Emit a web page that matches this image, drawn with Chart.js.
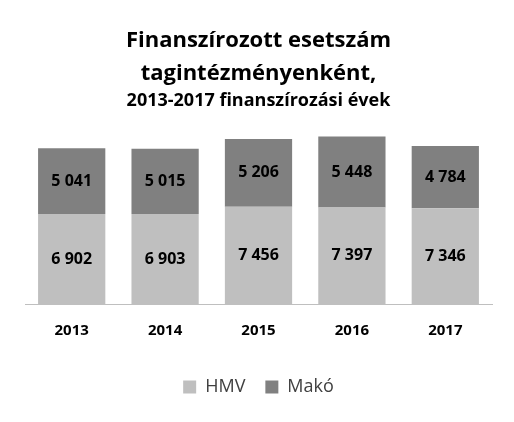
<!DOCTYPE html>
<html>
<head>
<meta charset="utf-8">
<script src="https://cdn.jsdelivr.net/npm/chart.js@4"></script>
<style>
  body { margin: 0; background: #fff; }
  #wrap { width: 514px; height: 422px; }
</style>
</head>
<body>
<div id="wrap"><canvas id="chart"></canvas></div>
<script>
const years = ['2013', '2014', '2015', '2016', '2017'];
const hmv = [6902, 6903, 7456, 7397, 7346];
const mako = [5041, 5015, 5206, 5448, 4784];

// format numbers with a space as thousands separator
const fmt = v => String(v).replace(/\B(?=(\d{3})+(?!\d))/g, ' ');

// draw the value in the middle of each bar segment
const barLabels = {
  id: 'barLabels',
  afterDatasetsDraw(chart) {
    const ctx = chart.ctx;
    ctx.save();
    ctx.font = 'bold 16px "Open Sans", sans-serif';
    ctx.fillStyle = '#000';
    ctx.textAlign = 'center';
    ctx.textBaseline = 'middle';
    chart.data.datasets.forEach((ds, i) => {
      chart.getDatasetMeta(i).data.forEach((bar, j) => {
        const mid = (bar.y + bar.base) / 2;
        ctx.fillText(fmt(ds.data[j]), bar.x, mid);
      });
    });
    ctx.restore();
  }
};

new Chart(document.getElementById('chart'), {
  type: 'bar',
  data: {
    labels: years,
    datasets: [
      { label: 'HMV', data: hmv, backgroundColor: '#bfbfbf' },
      { label: 'Makó', data: mako, backgroundColor: '#808080' }
    ]
  },
  options: {
    responsive: true,
    maintainAspectRatio: false,
    animation: false,
    layout: { padding: { left: 25, right: 22, top: 24, bottom: 16 } },
    datasets: { bar: { categoryPercentage: 1, barPercentage: 0.72 } },
    scales: {
      x: {
        stacked: true,
        grid: { display: false, drawTicks: false },
        border: { color: '#bfbfbf' },
        ticks: { color: '#000', padding: 18, font: { family: '"Open Sans", sans-serif', size: 15, weight: 'bold' } }
      },
      y: {
        stacked: true,
        min: 0,
        max: 14300,
        display: false
      }
    },
    plugins: {
      title: {
        display: true,
        text: ['Finanszírozott esetszám', 'tagintézményenként,'],
        color: '#000',
        font: { family: '"Open Sans", sans-serif', size: 22, weight: 'bold', lineHeight: 1.5 },
        padding: { top: 0, bottom: 0 }
      },
      subtitle: {
        display: true,
        text: '2013-2017 finanszírozási évek',
        color: '#000',
        font: { family: '"Open Sans", sans-serif', size: 18, weight: 'bold' },
        padding: { top: 0, bottom: 6 }
      },
      legend: {
        position: 'bottom',
        labels: {
          color: '#404040',
          boxWidth: 13,
          boxHeight: 13,
          padding: 20,
          font: { family: '"Open Sans", sans-serif', size: 18 }
        }
      },
      tooltip: { enabled: false }
    }
  },
  plugins: [barLabels]
});
</script>
</body>
</html>
